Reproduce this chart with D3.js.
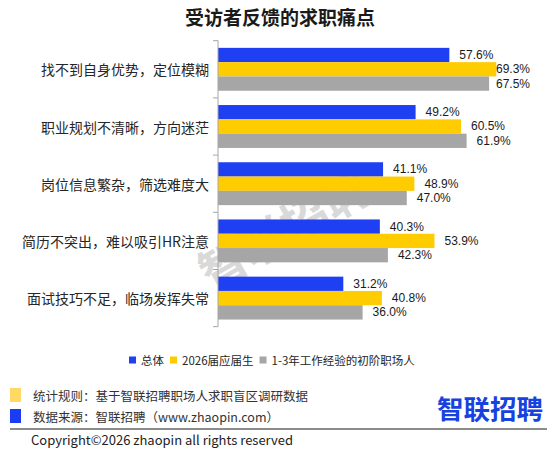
<!DOCTYPE html>
<html>
<head>
<meta charset="utf-8">
<script src="https://cdn.jsdelivr.net/npm/d3@7"></script>
<style>
  body { margin: 0; background: #fff; }
  text { font-family: "Noto Sans CJK SC", "Noto Sans", sans-serif; }
  text.val { font-family: "Liberation Sans", Arial, sans-serif; }
</style>
</head>
<body>
<div id="chart"></div>
<script>
// chart data
let categories = [
  "找不到自身优势，定位模糊",
  "职业规划不清晰，方向迷茫",
  "岗位信息繁杂，筛选难度大",
  "简历不突出，难以吸引HR注意",
  "面试技巧不足，临场发挥失常"
];
let seriesNames = ["总体", "2026届应届生", "1-3年工作经验的初阶职场人"];
let totalValues = [57.6, 49.2, 41.1, 40.3, 31.2];
let gradValues = [69.3, 60.5, 48.9, 53.9, 40.8];
let juniorValues = [67.5, 61.9, 47.0, 42.3, 36.0];
let seriesColors = ["#1f3ff2", "#ffcc00", "#a6a6a6"];

let svgWidth = 560;
let svgHeight = 450;

let svg = d3.select("#chart")
  .append("svg")
  .attr("width", svgWidth)
  .attr("height", svgHeight);

// rows of data: one per category
let rows = categories.map((c, i) => ({
  cat: c,
  vals: [totalValues[i], gradValues[i], juniorValues[i]]
}));

// scales
let xScale = d3.scaleLinear()
  .domain([0, 80])
  .range([218, 539.3]);

let yScale = d3.scaleBand()
  .domain(categories)
  .range([40.7, 326.7])
  .paddingInner(0.25)
  .paddingOuter(0.125);

let ySub = d3.scaleBand()
  .domain(d3.range(seriesNames.length))
  .range([0, yScale.bandwidth()]);

// title
svg.append("text")
  .attr("x", 280)
  .attr("y", 16)
  .attr("text-anchor", "middle")
  .attr("dominant-baseline", "central")
  .attr("font-size", "19px")
  .attr("font-weight", "bold")
  .attr("fill", "#1a1a1a")
  .text("受访者反馈的求职痛点");

// watermark behind the bars
svg.append("text")
  .attr("transform", "translate(283, 227) rotate(-30)")
  .attr("text-anchor", "middle")
  .attr("dominant-baseline", "central")
  .attr("font-size", "47px")
  .attr("font-weight", "bold")
  .attr("fill", "#d9d9d9")
  .text("智联招聘");

// bars
let groups = svg.selectAll(".cat")
  .data(rows)
  .enter()
  .append("g")
  .attr("class", "cat")
  .attr("transform", d => `translate(0, ${yScale(d.cat)})`);

groups.selectAll("rect")
  .data(d => d.vals)
  .enter()
  .append("rect")
  .attr("x", xScale(0))
  .attr("y", (d, i) => ySub(i))
  .attr("width", d => xScale(d) - xScale(0))
  .attr("height", ySub.bandwidth())
  .attr("fill", (d, i) => seriesColors[i]);

// value labels, pushed in when they would run past the plot
groups.selectAll(".val")
  .data(d => d.vals)
  .enter()
  .append("text")
  .attr("class", "val")
  .attr("x", d => Math.min(xScale(d) + 10, 496))
  .attr("y", (d, i) => ySub(i) + ySub.bandwidth() / 2)
  .attr("dominant-baseline", "central")
  .attr("font-size", "12px")
  .attr("fill", "#1a1a1a")
  .text(d => d.toFixed(1) + "%");

// category axis: line plus ticks on the band boundaries
let axisTop = yScale.range()[0];
let axisBottom = yScale.range()[1];
svg.append("line")
  .attr("x1", xScale(0))
  .attr("x2", xScale(0))
  .attr("y1", axisTop)
  .attr("y2", axisBottom)
  .attr("stroke", "#a6a6a6")
  .attr("stroke-width", 1);

svg.selectAll(".tick")
  .data(d3.range(categories.length + 1))
  .enter()
  .append("line")
  .attr("class", "tick")
  .attr("x1", xScale(0) - 5)
  .attr("x2", xScale(0))
  .attr("y1", d => axisTop + d * yScale.step())
  .attr("y2", d => axisTop + d * yScale.step())
  .attr("stroke", "#a6a6a6")
  .attr("stroke-width", 1);

svg.selectAll(".catLabel")
  .data(categories)
  .enter()
  .append("text")
  .attr("class", "catLabel")
  .attr("x", 209)
  .attr("y", d => yScale(d) + yScale.bandwidth() / 2)
  .attr("text-anchor", "end")
  .attr("dominant-baseline", "central")
  .attr("font-size", "14px")
  .attr("fill", "#262626")
  .text(d => d);

// legend, laid out left to right from measured text widths
let legend = svg.append("g").attr("transform", "translate(129, 360)");
let lx = 0;
seriesNames.forEach(function(name, i) {
  legend.append("rect")
    .attr("x", lx)
    .attr("y", -3.5)
    .attr("width", 7)
    .attr("height", 7)
    .attr("fill", seriesColors[i]);
  let t = legend.append("text")
    .attr("x", lx + 12)
    .attr("y", 0)
    .attr("dominant-baseline", "central")
    .attr("font-size", "11.5px")
    .attr("fill", "#262626")
    .text(name);
  lx += 12 + t.node().getComputedTextLength() + 6;
});

// footer notes
let notes = [
  { color: "#ffd966", text: "统计规则：基于智联招聘职场人求职盲区调研数据", y: 395 },
  { color: "#1a3cf5", text: "数据来源：智联招聘（www.zhaopin.com）", y: 416 }
];
notes.forEach(function(n) {
  svg.append("rect")
    .attr("x", 10)
    .attr("y", n.y - 7)
    .attr("width", 11)
    .attr("height", 14)
    .attr("fill", n.color);
  svg.append("text")
    .attr("x", 33)
    .attr("y", n.y)
    .attr("dominant-baseline", "central")
    .attr("font-size", "12.5px")
    .attr("fill", "#333")
    .text(n.text);
});

// logo
svg.append("text")
  .attr("x", 437)
  .attr("y", 407)
  .attr("dominant-baseline", "central")
  .attr("font-size", "26.5px")
  .attr("font-weight", "bold")
  .attr("fill", "#1742e0")
  .text("智联招聘");

svg.append("line")
  .attr("x1", 10)
  .attr("x2", 547)
  .attr("y1", 429)
  .attr("y2", 429)
  .attr("stroke", "#666")
  .attr("stroke-width", 1.5);

svg.append("text")
  .attr("x", 31)
  .attr("y", 439)
  .attr("dominant-baseline", "central")
  .attr("font-size", "13px")
  .attr("fill", "#222")
  .text("Copyright©2026 zhaopin all rights reserved");
</script>
</body>
</html>
